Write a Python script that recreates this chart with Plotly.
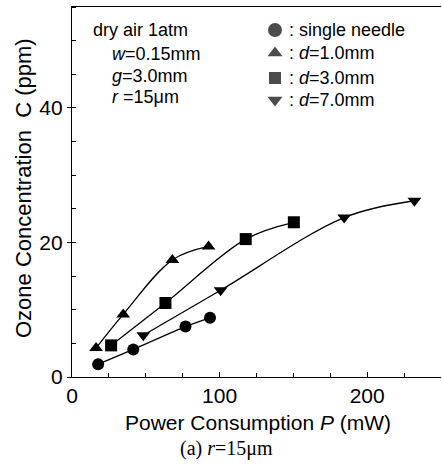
import plotly.graph_objects as go

# ---- data ----
single_P = [17.7, 41.5, 76.9, 93.5]
single_C = [1.9, 4.1, 7.5, 8.8]

d1_P = [16.3, 34.7, 68.0, 92.5]
d1_C = [4.3, 9.3, 17.4, 19.4]

d3_P = [26.5, 63.3, 117.7, 150.3]
d3_C = [4.7, 11.0, 20.5, 23.0]

d7_P = [48.3, 100.7, 184.4, 232.0]
d7_C = [6.2, 12.9, 23.7, 26.2]

series_names = [": single needle", ": <i>d</i>=1.0mm", ": <i>d</i>=3.0mm", ": <i>d</i>=7.0mm"]
series_symbols = ["circle", "triangle-up", "square", "triangle-down"]

x_ticks = [0, 100, 200]
y_ticks = [0, 20, 40]

# ---- layout constants (pixels) ----
W, H = 442, 464
L, R, T, B = 72, 1, 7, 87
PW, PH = W - L - R, H - T - B
KEY_X = 275
KEY_ROWS_Y = [30, 53, 78, 100]
KEY_TEXT_X = 287
KEY_SIZES = [14, 13, 12, 13]


def px(x, y):
    return (x - L) / PW, (H - B - y) / PH


fig = go.Figure()
series = [(single_P, single_C), (d1_P, d1_C), (d3_P, d3_C), (d7_P, d7_C)]
for (xs, ys), name, sym in zip(series, series_names, series_symbols):
    fig.add_trace(go.Scatter(
        x=xs, y=ys, mode="lines", line=dict(color="black", width=1.3, shape="spline", smoothing=1.0),
        showlegend=False, hoverinfo="skip"))
    fig.add_trace(go.Scatter(
        x=xs, y=ys, mode="markers", name=name, showlegend=False,
        marker=dict(symbol=sym, size=12, color="black", line=dict(width=0))))

# legend keys drawn on an overlay pixel-unit axis
fig.add_trace(go.Scatter(
    x=[KEY_X] * len(series_symbols), y=KEY_ROWS_Y, xaxis="x2", yaxis="y2", mode="markers",
    marker=dict(symbol=series_symbols, size=KEY_SIZES, color="black", line=dict(width=0)),
    showlegend=False, hoverinfo="skip"))

font = "Liberation Sans, Arial, sans-serif"
annos = []
for name, yy in zip(series_names, KEY_ROWS_Y):
    ax, ay = px(KEY_TEXT_X, yy)
    annos.append(dict(x=ax, y=ay, xref="paper", yref="paper", text=name, showarrow=False,
                      xanchor="left", yanchor="middle", font=dict(size=18, family=font, color="black")))
# condition text
for txt, (xx, yy) in [("dry air 1atm", (91, 30)),
                      ("<i>w</i>=0.15mm", (110, 54)),
                      ("<i>g</i>=3.0mm", (110, 76)),
                      ("<i>r</i> =15μm", (110, 97))]:
    ax, ay = px(xx, yy)
    annos.append(dict(x=ax, y=ay, xref="paper", yref="paper", text=txt, showarrow=False,
                      xanchor="left", yanchor="middle", font=dict(size=18, family=font, color="black")))
# axis titles
ax, ay = px(258, 422)
annos.append(dict(x=ax, y=ay, xref="paper", yref="paper", text="Power Consumption <i>P</i> (mW)",
                  showarrow=False, xanchor="center", yanchor="middle",
                  font=dict(size=21, family=font, color="black")))
ax, ay = px(23, 188)
annos.append(dict(x=ax, y=ay, xref="paper", yref="paper", text="Ozone Concentration  C (ppm)",
                  showarrow=False, xanchor="center", yanchor="middle", textangle=-90,
                  font=dict(size=22, family=font, color="black")))
ax, ay = px(226, 448)
annos.append(dict(x=ax, y=ay, xref="paper", yref="paper", text="(a) <i>r</i>=15μm",
                  showarrow=False, xanchor="center", yanchor="middle",
                  font=dict(size=20, family="Liberation Serif, Times New Roman, serif", color="black")))

fig.update_layout(
    width=W, height=H, margin=dict(l=L, r=R, t=T, b=B),
    paper_bgcolor="white", plot_bgcolor="white",
    annotations=annos, showlegend=False,
    xaxis=dict(range=[0, 250], tickvals=x_ticks, ticks="inside", ticklen=5, tickcolor="black",
               showline=True, linecolor="black", linewidth=1.3, mirror=True, showgrid=False,
               zeroline=False, tickfont=dict(size=21, family=font, color="black"),
               minor=dict(dtick=25, ticks="inside", ticklen=4, tickcolor="black"), fixedrange=True),
    yaxis=dict(range=[0, 55], tickvals=y_ticks, ticks="outside", ticklen=4, tickcolor="black",
               showline=True, linecolor="black", linewidth=1.3, showgrid=False, zeroline=False,
               tickfont=dict(size=21, family=font, color="black"),
               minor=dict(dtick=5, ticks="inside", ticklen=4, tickcolor="black"), fixedrange=True),
    xaxis2=dict(overlaying="x", range=[L, W - R], visible=False, fixedrange=True),
    yaxis2=dict(overlaying="y", range=[H - B, T], visible=False, fixedrange=True),
)
fig.write_html("out.html")
